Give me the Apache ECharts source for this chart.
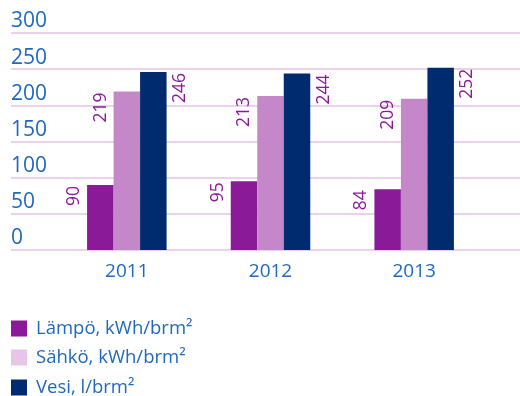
<!DOCTYPE html>
<html>
<head>
<meta charset="utf-8">
<script src="https://cdn.jsdelivr.net/npm/echarts@6/dist/echarts.min.js"></script>
<style>
  html, body { margin: 0; padding: 0; background: #ffffff; }
  #chart { width: 520px; height: 396px; }
</style>
</head>
<body>
<div id="chart"></div>
<script>
// Consumption per year: heat, electricity, water
const years = ['2011', '2012', '2013'];
const lampo = [90, 95, 84];
const sahko = [219, 213, 209];
const vesi = [246, 244, 252];
const seriesNames = ['Lämpö, kWh/brm²', 'Sähkö, kWh/brm²', 'Vesi, l/brm²'];

const blue = '#1f67c0';
const purple = '#8b1a98';
const font = '"Open Sans", sans-serif';
const barColors = ['#8b1a98', '#c488c9', '#002b6f'];
const swatchColors = ['#8b1a98', '#e6c5e8', '#002b6f'];

// rotated value labels, placed beside the top of each bar
function sideLabel(side) {
  return {
    show: true,
    rotate: 90,
    position: side === 'left' ? [-4, 1] : [31, 1],
    align: 'right',
    verticalAlign: side === 'left' ? 'bottom' : 'top',
    color: purple,
    fontFamily: font,
    fontSize: 17.5
  };
}

// one legend row per series, stacked under the plot
const legendTops = [319, 348, 378];
const legends = seriesNames.map((name, i) => ({
  left: 11, top: legendTops[i], padding: 0,
  itemWidth: 16, itemHeight: 16, icon: 'rect',
  textStyle: { color: blue, fontFamily: font, fontSize: 18.5, padding: [0, 0, 0, 4] },
  data: [{ name: name, itemStyle: { color: swatchColors[i] } }]
}));

const chart = echarts.init(document.getElementById('chart'));
chart.setOption({
  animation: false,
  grid: [
    { left: 11, right: 0, top: 33, bottom: 146 },
    { left: 55, right: 34, top: 33, bottom: 146 }
  ],
  xAxis: [
    { type: 'value', gridIndex: 0, show: false },
    {
      type: 'category', gridIndex: 1, data: years,
      axisLine: { show: false }, axisTick: { show: false },
      axisLabel: { color: blue, fontFamily: font, fontSize: 19, margin: 12 }
    }
  ],
  yAxis: [
    {
      type: 'value', gridIndex: 0, min: 0, max: 300, interval: 50,
      axisLine: { show: false }, axisTick: { show: false },
      axisLabel: {
        inside: true, margin: 0, align: 'left', verticalAlign: 'bottom',
        padding: [0, 0, 1, 0],
        color: blue, fontFamily: font, fontSize: 21
      },
      splitLine: { lineStyle: { color: '#e4c3e6', width: 1.5 } }
    },
    { type: 'value', gridIndex: 1, min: 0, max: 300, interval: 50, show: false, splitLine: { show: false } }
  ],
  legend: legends,
  series: [
    { name: seriesNames[0], type: 'bar', xAxisIndex: 1, yAxisIndex: 1, data: lampo,
      barWidth: 26.5, barGap: '0%', itemStyle: { color: barColors[0] }, label: sideLabel('left') },
    { name: seriesNames[1], type: 'bar', xAxisIndex: 1, yAxisIndex: 1, data: sahko,
      barWidth: 26.5, barGap: '0%', itemStyle: { color: barColors[1] }, label: sideLabel('left') },
    { name: seriesNames[2], type: 'bar', xAxisIndex: 1, yAxisIndex: 1, data: vesi,
      barWidth: 26.5, barGap: '0%', itemStyle: { color: barColors[2] }, label: sideLabel('right') }
  ]
});
</script>
</body>
</html>
